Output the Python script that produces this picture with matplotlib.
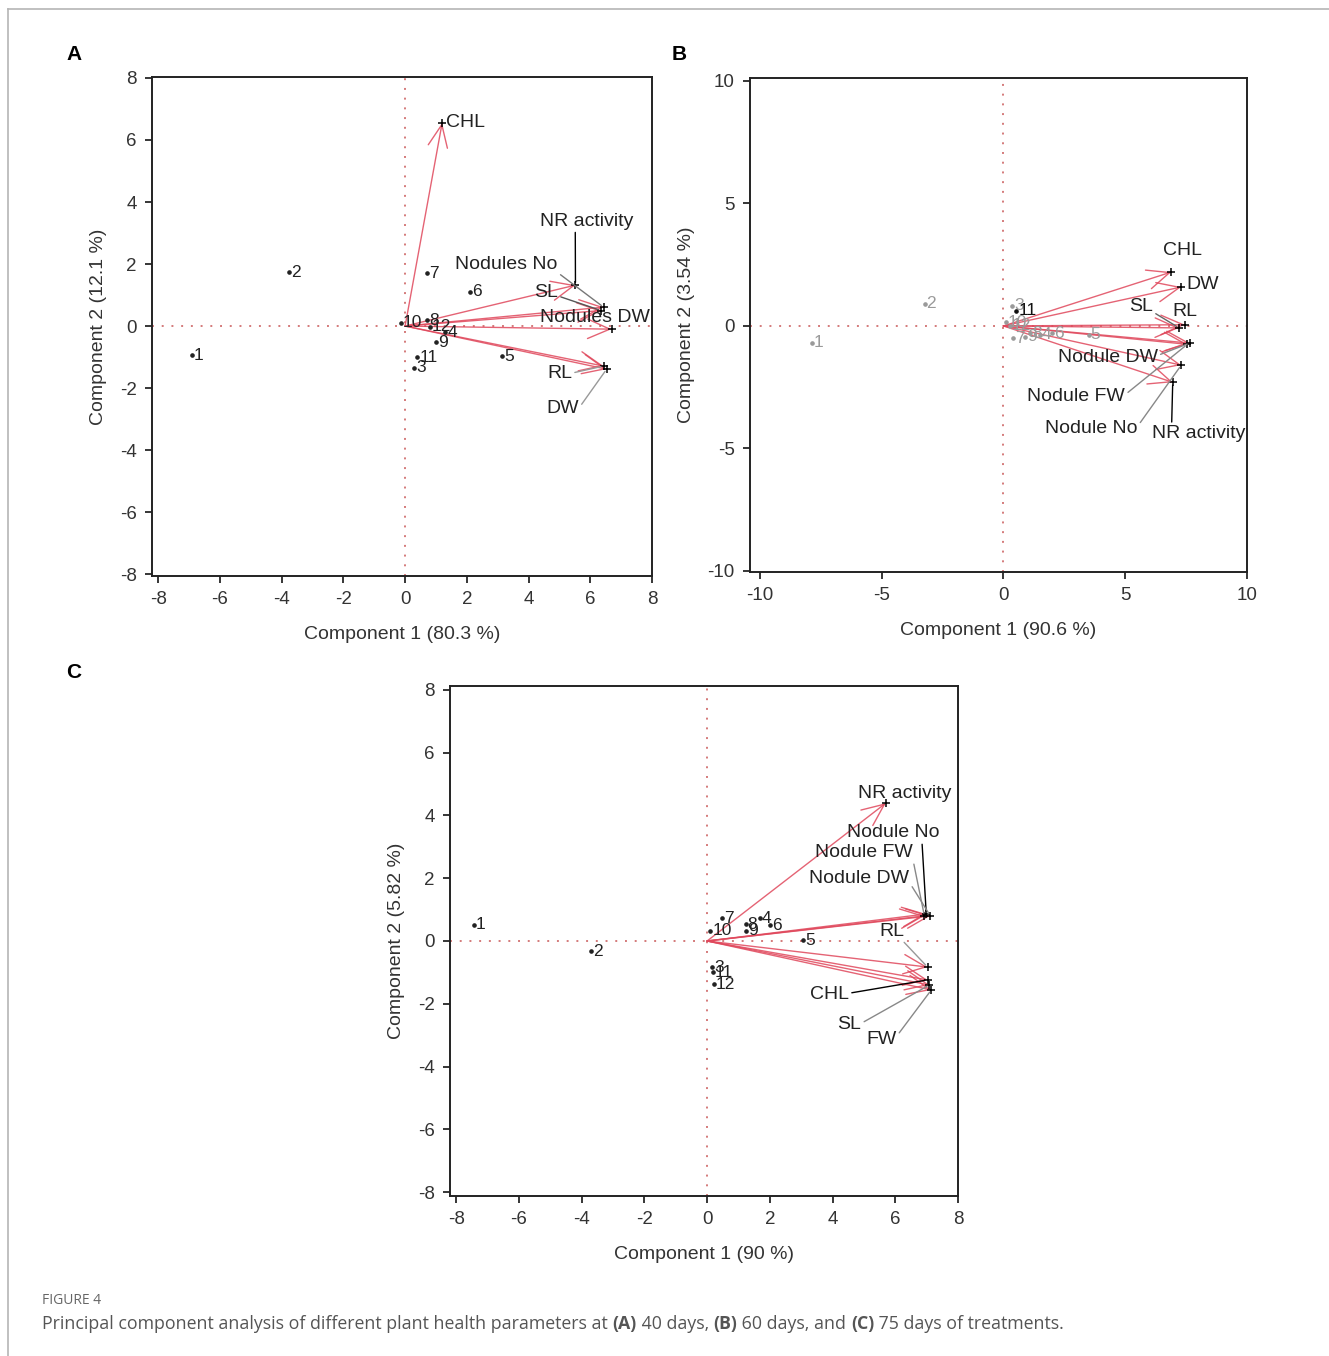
import matplotlib
matplotlib.use("Agg")
import matplotlib.pyplot as plt
from matplotlib.lines import Line2D

plt.rcParams['font.family'] = ['Liberation Sans', 'DejaVu Sans']
plt.rcParams['axes.unicode_minus'] = False

# ---- panel A (40 days) ----
a_obs = ['1', '2', '3', '4', '5', '6', '7', '8', '9', '10', '11', '12']
a_obs_x = [-6.92, -3.77, 0.29, 1.3, 3.15, 2.11, 0.71, 0.71, 1.0, -0.13, 0.39, 0.81]
a_obs_y = [-0.94, 1.74, -1.35, -0.2, -0.97, 1.1, 1.71, 0.19, -0.52, 0.1, -1.0, -0.03]
a_vars = ['CHL', 'NR activity', 'Nodules No', 'SL', 'Nodules DW', 'RL', 'DW']
a_var_x = [1.2, 5.52, 6.43, 6.35, 6.69, 6.43, 6.53]
a_var_y = [6.55, 1.32, 0.61, 0.5, -0.1, -1.29, -1.39]

# ---- panel B (60 days) ----
b_obs = ['1', '2', '3', '4', '5', '6', '7', '8', '9', '10', '11', '12']
b_obs_x = [-7.87, -3.24, 0.37, 1.5, 3.5, 2.0, 0.4, 1.1, 0.9, 0.1, 0.53, 0.25]
b_obs_y = [-0.69, 0.9, 0.82, -0.35, -0.35, -0.3, -0.5, -0.3, -0.45, 0.15, 0.61, 0.0]
b_vars = ['CHL', 'DW', 'SL', 'RL', 'Nodule DW', 'Nodule FW', 'Nodule No', 'NR activity']
b_var_x = [6.89, 7.3, 7.21, 7.45, 7.65, 7.55, 7.3, 6.95]
b_var_y = [2.2, 1.59, -0.08, 0.05, -0.7, -0.75, -1.6, -2.3]

# ---- panel C (75 days) ----
c_obs = ['1', '2', '3', '4', '5', '6', '7', '8', '9', '10', '11', '12']
c_obs_x = [-7.44, -3.7, 0.16, 1.68, 3.07, 2.0, 0.47, 1.23, 1.23, 0.1, 0.19, 0.22]
c_obs_y = [0.51, -0.32, -0.83, 0.73, 0.03, 0.5, 0.73, 0.54, 0.32, 0.32, -0.99, -1.37]
c_vars = ['NR activity', 'Nodule No', 'Nodule FW', 'Nodule DW', 'RL', 'CHL', 'SL', 'FW']
c_var_x = [5.7, 6.99, 6.93, 7.12, 7.03, 7.03, 7.09, 7.15]
c_var_y = [4.39, 0.86, 0.8, 0.8, -0.83, -1.24, -1.4, -1.56]

# label layout: (dx px, dy px, ha, connector colour or None, relpos)
a_lab = [(4, 0, 'left', None, None),
         (11, 64, 'center', 'black', (0.38, 0)),
         (-97, 43, 'center', '#777777', (1, 0)),
         (-55, 18, 'center', '#555555', (1, 0.3)),
         (-17, 12, 'center', None, None),
         (-44, -7, 'center', '#999999', (1, 0.5)),
         (-44, -39, 'center', '#999999', (1, 0.5))]
b_lab = [(11, 22, 'center', None, None),
         (5, 2, 'left', None, None),
         (-38, 21, 'center', '#666666', (1, 0.2)),
         (0, 13, 'center', None, None),
         (-82, -14, 'center', '#888888', (1, 0.6)),
         (-111, -52, 'center', '#888888', (1, 0.6)),
         (-90, -63, 'center', '#888888', (1, 0.6)),
         (26, -51, 'center', 'black', (0.21, 1))]
c_lab = [(19, 10, 'center', None, None),
         (-33, 81, 'center', 'black', (0.81, 0)),
         (-61, 63, 'center', '#888888', (1, 0.3)),
         (-71, 37, 'center', '#888888', (1, 0.3)),
         (-36, 36, 'center', '#999999', (0.9, 0)),
         (-98, -15, 'center', 'black', (1, 0.6)),
         (-80, -40, 'center', '#888888', (1, 0.6)),
         (-50, -50, 'center', '#888888', (1, 0.7))]

RED = '#e0485c'


def draw_panel(ax, obs, ox, oy, vars_, vx, vy, labs, xlim, ylim, ticks,
               xlabel, ylabel, obs_color='#222222'):
    ax.set_xlim(*xlim)
    ax.set_ylim(*ylim)
    ax.axhline(0, color='#d47a7a', lw=1.4, ls=(0, (1, 4)), zorder=1)
    ax.axvline(0, color='#d47a7a', lw=1.4, ls=(0, (1, 4)), zorder=1)

    for name, x, y in zip(obs, ox, oy):
        col = obs_color
        if obs_color != '#222222' and name == '11':
            col = '#111111'
        ax.plot(x, y, marker='o', ms=2.3, color=col, ls='none', zorder=3)
        ax.annotate(name, (x, y), xytext=(2, 0), textcoords='offset pixels',
                    ha='left', va='center', fontsize=12.5, color=col, zorder=3)

    for name, x, y, (dx, dy, ha, lc, rp) in zip(vars_, vx, vy, labs):
        ax.annotate('', xy=(x, y), xytext=(0, 0),
                    arrowprops=dict(arrowstyle='->, head_length=0.8, head_width=0.35',
                                    color=RED, lw=1.0, alpha=0.85,
                                    mutation_scale=20, shrinkA=0, shrinkB=0),
                    zorder=2)
        ax.plot(x, y, marker='+', ms=6, mew=1.1, color='black', zorder=4)
        props = None
        if lc is not None:
            props = dict(arrowstyle='-', color=lc, lw=1.0, relpos=rp,
                         shrinkA=0, shrinkB=2)
        ax.annotate(name, (x, y), xytext=(dx, dy), textcoords='offset pixels',
                    ha=ha, va='center', fontsize=14, color='#222222',
                    arrowprops=props, zorder=5)

    ax.set_xticks(ticks)
    ax.set_yticks(ticks)
    ax.tick_params(direction='out', length=5, width=1.1, labelsize=13.5,
                   labelcolor='#333333', pad=6)
    for s in ax.spines.values():
        s.set_linewidth(1.4)
        s.set_color('#222222')
    ax.set_xlabel(xlabel, fontsize=14, color='#333333', labelpad=13)
    ax.set_ylabel(ylabel, fontsize=14, color='#333333', labelpad=9)


fig = plt.figure(figsize=(13.29, 13.56), dpi=100)

axA = fig.add_axes([0.1144, 0.5752, 0.3762, 0.368])
draw_panel(axA, a_obs, a_obs_x, a_obs_y, a_vars, a_var_x, a_var_y, a_lab,
           (-8.2, 8.0), (-8.06, 8.03), [-8, -6, -4, -2, 0, 2, 4, 6, 8],
           'Component 1 (80.3 %)', 'Component 2 (12.1 %)')

axB = fig.add_axes([0.5643, 0.5782, 0.374, 0.3643])
draw_panel(axB, b_obs, b_obs_x, b_obs_y, b_vars, b_var_x, b_var_y, b_lab,
           (-10.41, 9.96), (-10.04, 10.12), [-10, -5, 0, 5, 10],
           'Component 1 (90.6 %)', 'Component 2 (3.54 %)', obs_color='#9a9a9a')

axC = fig.add_axes([0.3386, 0.118, 0.3822, 0.3761])
draw_panel(axC, c_obs, c_obs_x, c_obs_y, c_vars, c_var_x, c_var_y, c_lab,
           (-8.2, 8.0), (-8.12, 8.12), [-8, -6, -4, -2, 0, 2, 4, 6, 8],
           'Component 1 (90 %)', 'Component 2 (5.82 %)')

# panel letters
for letter, px, py in [('A', 74, 55), ('B', 679, 55), ('C', 74, 672)]:
    fig.text(px / 1329, 1 - py / 1356, letter, fontsize=15, fontweight='bold',
             ha='center', va='center')

# frame lines
fig.add_artist(Line2D([8 / 1329, 8 / 1329], [0, 1 - 9 / 1356], color='#b5b5b5', lw=1.2))
fig.add_artist(Line2D([8 / 1329, 1], [1 - 9 / 1356, 1 - 9 / 1356], color='#b5b5b5', lw=1.2))

# caption
cap_font = ['Open Sans', 'DejaVu Sans']
fig.text(42 / 1329, 1 - 1301 / 1356, 'FIGURE 4', fontsize=10, color='#666666',
         family=cap_font, va='center')
pieces = [('Principal component analysis of different plant health parameters at ', 'normal'),
          ('(A)', 'bold'), (' 40 days, ', 'normal'), ('(B)', 'bold'),
          (' 60 days, and ', 'normal'), ('(C)', 'bold'),
          (' 75 days of treatments.', 'normal')]
fig.canvas.draw()
renderer = fig.canvas.get_renderer()
xpos = 42
base_y = 1 - 1329 / 1356
for txt, wt in pieces:
    t = fig.text(xpos / 1329, base_y, txt, fontsize=12.75, color='#555555',
                 fontweight=wt, family=cap_font, va='baseline')
    bb = t.get_window_extent(renderer)
    xpos = bb.x1

fig.savefig('out.png', dpi=100)
